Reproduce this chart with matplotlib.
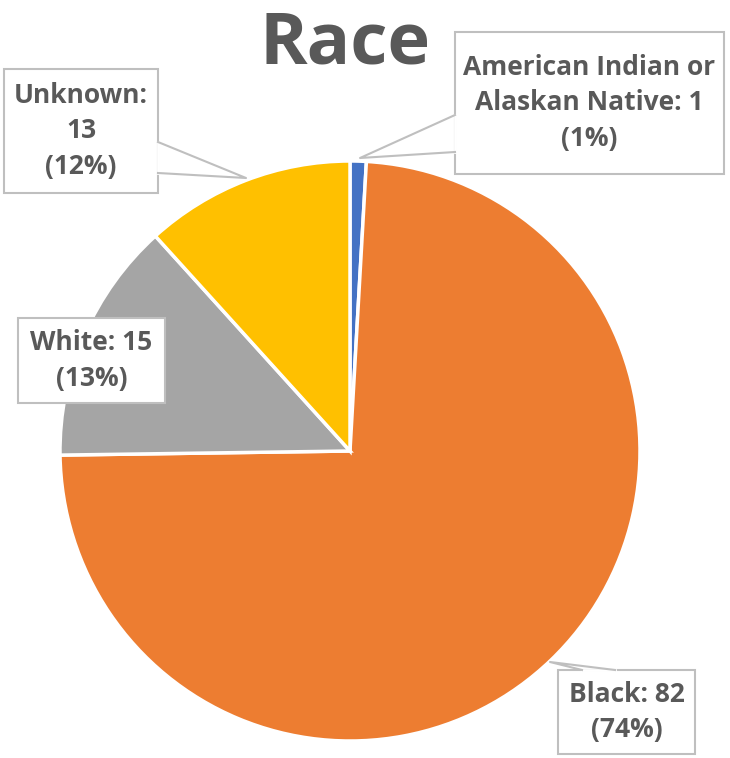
import matplotlib
matplotlib.use("Agg")
import matplotlib.pyplot as plt
from matplotlib.patches import Rectangle
from matplotlib.lines import Line2D

categories = ["American Indian or\nAlaskan Native", "Black", "White", "Unknown"]
counts = [1, 82, 15, 13]
percents = [1, 74, 13, 12]
colors = ["#4472C4", "#ED7D31", "#A5A5A5", "#FFC000"]

W, H = 730, 758
plt.rcParams['font.family'] = ['Open Sans', 'DejaVu Sans']
txt_color = "#595959"
box_edge = "#BFBFBF"

fig = plt.figure(figsize=(W / 100, H / 100), dpi=100)


def fx(x):
    return x / W


def fy(y):
    return 1 - y / H


# pie: center (350, 451), radius 290 px
r = 290
ax = fig.add_axes([fx(350 - r), fy(451 + r), 2 * r / W, 2 * r / H])
ax.pie(counts, colors=colors, startangle=90, counterclock=False,
       wedgeprops=dict(edgecolor="white", linewidth=2.5))
ax.set_xlim(-1, 1)
ax.set_ylim(-1, 1)
ax.set_aspect("equal")
ax.axis("off")

fig.text(fx(345), fy(44), "Race", ha="center", va="center",
         fontsize=52, fontweight="bold", color=txt_color)

labels = [f"{c}: {v}\n({p}%)" for c, v, p in zip(categories, counts, percents)]
labels[3] = f"Unknown:\n{counts[3]}\n({percents[3]}%)"

# boxes: (x0, y0, x1, y1) in px, pointer tip and box edge points
boxes = [
    (455, 32, 724, 174),
    (558, 670, 695, 754),
    (18, 318, 165, 403),
    (4, 69, 158, 193),
]
pointers = [
    ((360, 158), (455, 115), (455, 152)),
    ((550, 662), (582, 670), (615, 670)),
    None,
    ((246, 178), (158, 142), (158, 173)),
]

for lab, (x0, y0, x1, y1), ptr in zip(labels, boxes, pointers):
    fig.add_artist(Rectangle((fx(x0), fy(y1)), (x1 - x0) / W, (y1 - y0) / H,
                             transform=fig.transFigure, facecolor="white",
                             edgecolor=box_edge, linewidth=1.5, zorder=3))
    if ptr is not None:
        tip, a, b = ptr
        fig.add_artist(Line2D([fx(a[0]), fx(b[0])], [fy(a[1]), fy(b[1])],
                              transform=fig.transFigure, color="white",
                              linewidth=2, zorder=4))
        fig.add_artist(Line2D([fx(a[0]), fx(tip[0]), fx(b[0])],
                              [fy(a[1]), fy(tip[1]), fy(b[1])],
                              transform=fig.transFigure, color=box_edge,
                              linewidth=1.5, zorder=4))
    fig.text(fx((x0 + x1) / 2), fy((y0 + y1) / 2), lab, ha="center", va="center",
             fontsize=19, fontweight="bold", color=txt_color, linespacing=1.4,
             zorder=5)

fig.savefig("out.png", dpi=100)
